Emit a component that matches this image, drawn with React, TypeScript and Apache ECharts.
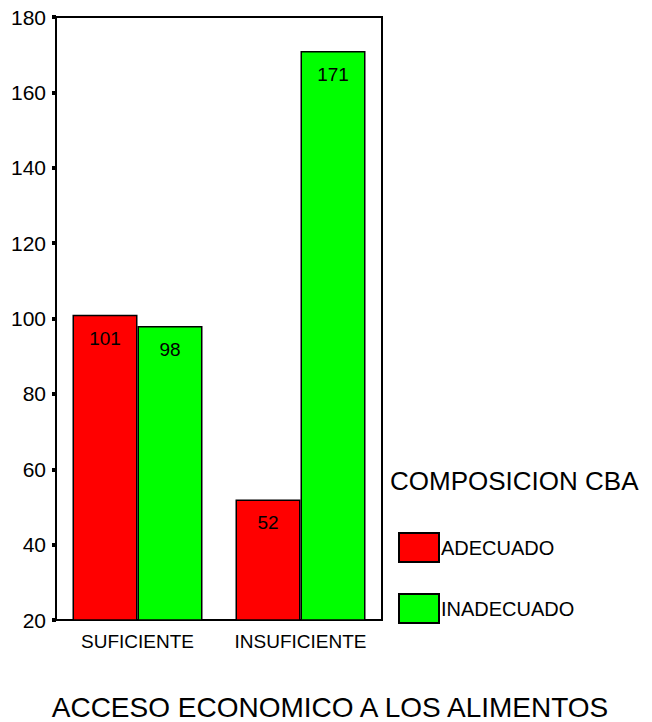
import React, { useEffect, useRef } from "react";
import * as echarts from "echarts";

const categories = ["SUFICIENTE", "INSUFICIENTE"];
const adecuado = [101, 52];
const inadecuado = [98, 171];
const seriesNames = ["ADECUADO", "INADECUADO"];
const legendTitle = "COMPOSICION CBA";
const xTitle = "ACCESO ECONOMICO A LOS ALIMENTOS";

const FONT = "'Liberation Sans', Arial, sans-serif";

export default function App() {
  const ref = useRef<HTMLDivElement>(null);
  useEffect(() => {
    if (!ref.current) return;
    const chart = echarts.init(ref.current, null, { renderer: "svg" });
    const labelCfg = {
      show: true,
      position: "insideTop",
      distance: 14,
      color: "#000",
      fontSize: 19,
      fontFamily: FONT,
    };
    chart.setOption({
      animation: false,
      backgroundColor: "#fff",
      textStyle: { fontFamily: FONT },
      grid: {
        left: 56,
        top: 17,
        right: 270,
        bottom: 102,
        show: true,
        borderColor: "#000",
        borderWidth: 2,
        containLabel: false,
      },
      legend: {
        orient: "vertical",
        left: 398,
        top: 532,
        padding: 0,
        itemWidth: 40,
        itemHeight: 29,
        itemGap: 30,
        icon: "rect",
        data: seriesNames,
        textStyle: { fontSize: 20, color: "#000", fontFamily: FONT, padding: [6, 0, 0, -3] },
      },
      xAxis: {
        type: "category",
        data: categories,
        axisLine: { lineStyle: { color: "#000", width: 2 } },
        axisTick: { alignWithLabel: true, length: 4, lineStyle: { color: "#000", width: 4 } },
        axisLabel: { interval: 0, fontSize: 19, color: "#000", margin: 12, fontFamily: FONT },
      },
      yAxis: {
        type: "value",
        min: 20,
        max: 180,
        interval: 20,
        splitLine: { show: false },
        axisLine: { show: true, lineStyle: { color: "#000", width: 2 } },
        axisTick: { show: true, length: 4, lineStyle: { color: "#000", width: 4 } },
        axisLabel: { fontSize: 21, color: "#000", margin: 10, fontFamily: FONT },
      },
      series: [
        {
          name: seriesNames[0],
          type: "bar",
          data: adecuado,
          barWidth: 65,
          barGap: "0%",
          itemStyle: { color: "#ff0000", borderColor: "#000", borderWidth: 1.5 },
          label: labelCfg,
        },
        {
          name: seriesNames[1],
          type: "bar",
          data: inadecuado,
          barWidth: 65,
          barGap: "0%",
          itemStyle: { color: "#00ff00", borderColor: "#000", borderWidth: 1.5 },
          label: labelCfg,
        },
      ],
      graphic: [
        {
          type: "text",
          x: 390,
          y: 481,
          style: {
            text: legendTitle,
            fontSize: 26,
            fontFamily: FONT,
            fill: "#000",
            textAlign: "left",
            textVerticalAlign: "middle",
          },
        },
        {
          type: "text",
          x: 330,
          y: 707,
          style: {
            text: xTitle,
            fontSize: 28,
            fontFamily: FONT,
            fill: "#000",
            textAlign: "center",
            textVerticalAlign: "middle",
          },
        },
      ],
    });
    return () => chart.dispose();
  }, []);
  return (
    <div
      ref={ref}
      style={{ position: "fixed", left: 0, top: 0, width: 652, height: 722, background: "#fff" }}
    />
  );
}
